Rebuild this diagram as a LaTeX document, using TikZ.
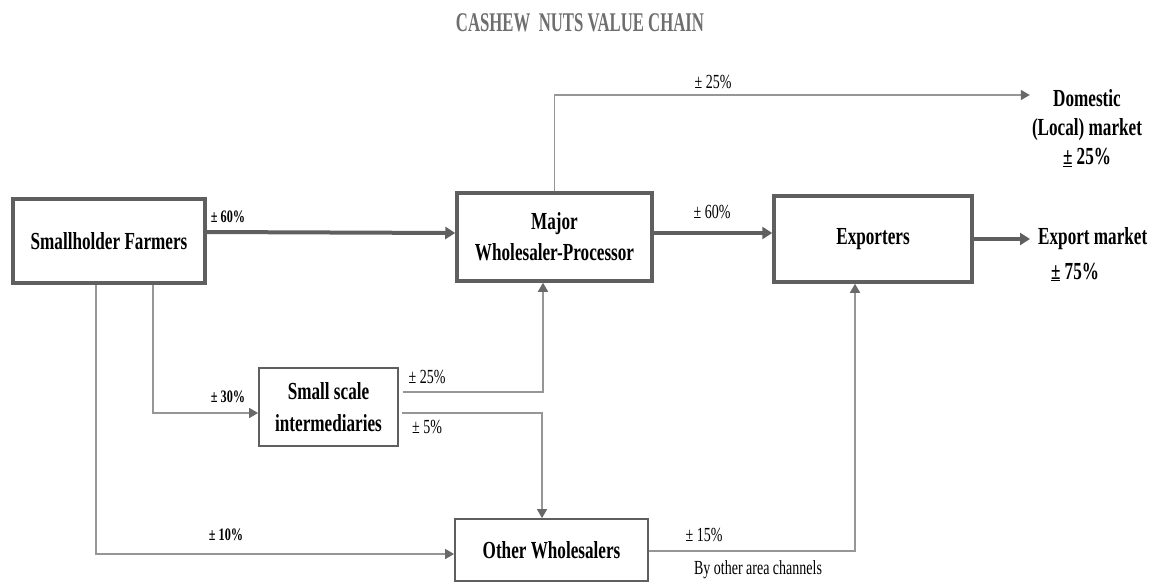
\documentclass[tikz,border=0pt]{standalone}
\usepackage{fontspec}
\setmainfont{Liberation Serif}[FakeStretch=0.7]
\newfontfamily\titlefont{Liberation Serif}[FakeStretch=0.62]
\usetikzlibrary{arrows.meta,positioning}
\definecolor{boxgray}{RGB}{95,95,95}
\definecolor{linegray}{RGB}{150,150,150}
\definecolor{tipgray}{RGB}{105,105,105}
\definecolor{titlegray}{RGB}{110,110,110}

\tikzset{
  bigbox/.style={draw=boxgray,line width=3.5pt,fill=white,align=center,inner sep=0pt,
    font=\fontsize{24.5}{31}\selectfont\bfseries},
  smallbox/.style={draw=boxgray,line width=1.8pt,fill=white,align=center,inner sep=0pt,
    font=\fontsize{24.5}{32}\selectfont\bfseries},
  mainflow/.style={draw=boxgray,line width=4pt,-{Triangle[length=10pt,width=12pt]}},
  sideflow/.style={draw=linegray,line width=1.5pt,-{Triangle[length=9pt,width=10pt,color=tipgray]}},
  pct/.style={font=\fontsize{20}{22}\selectfont,inner sep=0pt},
  bpct/.style={font=\fontsize{17.5}{19}\selectfont\bfseries,inner sep=0pt},
  market/.style={font=\fontsize{24.5}{29}\selectfont\bfseries,align=center,inner sep=2pt}
}

\begin{document}
\begin{tikzpicture}[x=1pt,y=-1pt]
       \useasboundingbox (0,0) rectangle (1153,581);

       \node[font=\titlefont\fontsize{27}{28}\selectfont\bfseries,text=titlegray] (title) at (580,23) {CASHEW\ \ NUTS VALUE CHAIN};

       \node[bigbox,minimum width=192,minimum height=84] (farmers) at (109,241) {Smallholder Farmers};
       \node[bigbox,minimum width=195,minimum height=88] (major) at (554.5,237) {Major\\Wholesaler-Processor};
       \node[bigbox,minimum width=198,minimum height=86] (exporters) at (873,239) {Exporters};
       \node[smallbox,minimum width=139,minimum height=78] (small) at (328.5,407) {Small scale\\intermediaries};
       \node[smallbox,minimum width=193,minimum height=62] (other) at (551.5,550) {Other Wholesalers};

       \node[market,anchor=west] (exportmkt) at (1036,239) {Export market};
       \node[market] (exportpct) at (1075,272) {\underline{±} 75\%};
       \node[market] (domestic) at (1087,128) {Domestic\\(Local) market\\\underline{±} 25\%};

       \draw[mainflow] ([yshift=9pt]farmers.east) -- ([yshift=4pt]major.west);
       \draw[mainflow] ([yshift=4pt]major.east) -- ([yshift=6pt]exporters.west);
       \draw[mainflow,shorten >=6pt] (exporters.east) -- (exportmkt.west);

       \draw[sideflow] (major.north) |- ([yshift=33pt]domestic.west);
       \draw[sideflow] ([xshift=44pt]farmers.south) |- ([yshift=-6pt]small.west);
       \draw[sideflow] ([xshift=-13pt]farmers.south) |- ([yshift=-4pt]other.west);
       \draw[sideflow,shorten <=4pt] ([yshift=15pt]small.east) -| ([xshift=-11.5pt]major.south);
       \draw[sideflow,shorten <=3pt] ([yshift=-6pt]small.east) -| ([xshift=-9.5pt]other.north);
       \draw[sideflow] ([yshift=-1pt]other.east) -| ([xshift=-18pt]exporters.south);

       \node[bpct] (l60a) at (228,217) {± 60\%};
       \node[pct] (l60b) at (712,212) {± 60\%};
       \node[pct] (l25top) at (713,82) {± 25\%};
       \node[bpct] (l30) at (228,397) {± 30\%};
       \node[bpct] (l10) at (226,535) {± 10\%};
       \node[pct] (l25) at (427,377) {± 25\%};
       \node[pct] (l5) at (427,427) {± 5\%};
       \node[pct] (l15) at (704,535) {± 15\%};
       \node[pct] (channels) at (758,570) {By other area channels};
     \end{tikzpicture}
\end{document}
